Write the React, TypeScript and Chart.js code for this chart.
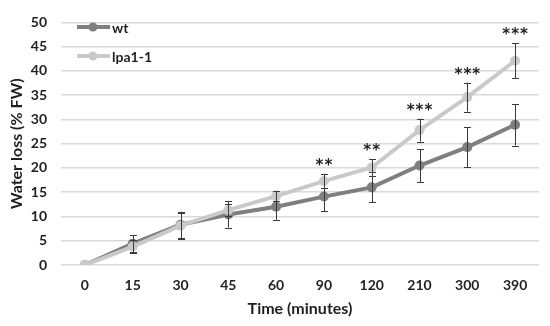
import React, { useEffect, useRef } from "react";
import { Chart, registerables } from "chart.js";

Chart.register(...registerables);

const categories = ["0", "15", "30", "45", "60", "90", "120", "210", "300", "390"];
const wtValues = [0, 4.4, 8.3, 10.4, 12.0, 14.1, 16.0, 20.5, 24.3, 28.9];
const wtErrors = [0, 1.7, 2.7, 2.7, 2.7, 3.0, 3.1, 3.4, 4.1, 4.3];
const lpaValues = [0, 3.8, 8.1, 11.3, 14.2, 17.3, 20.1, 27.8, 34.6, 42.1];
const lpaErrors = [0, 1.3, 2.7, 1.3, 1.1, 1.5, 1.7, 2.35, 3.0, 3.6];
const sigLabels = ["", "", "", "", "", "**", "**", "***", "***", "***"];
const seriesNames = ["wt", "lpa1-1"];
const yTicksMin = 0;
const yTicksMax = 50;
const yTickStep = 5;

const WT_COLOR = "#7f7f7f";
const LPA_COLOR = "#c9c9c9";
const FONT = "Lato, 'Open Sans', sans-serif";
const TEXT_COLOR = "#1f1f1f";

const errorPlugin = {
  id: "errorBarsAndLabels",
  afterDatasetDraw(chart: any, args: any) {
    const idx = args.index;
    const errs = idx === 0 ? wtErrors : lpaErrors;
    const vals = idx === 0 ? wtValues : lpaValues;
    const x = chart.scales.x;
    const y = chart.scales.y;
    const ctx = chart.ctx;
    ctx.save();
    ctx.strokeStyle = "#3a3a3a";
    ctx.lineWidth = 1;
    vals.forEach((v: number, i: number) => {
      const e = errs[i];
      if (!e) return;
      const px = Math.round(x.getPixelForValue(i)) + 0.5;
      const top = y.getPixelForValue(v + e);
      const bot = y.getPixelForValue(v - e);
      ctx.beginPath();
      ctx.moveTo(px, top);
      ctx.lineTo(px, bot);
      ctx.moveTo(px - 3.5, Math.round(top) + 0.5);
      ctx.lineTo(px + 3.5, Math.round(top) + 0.5);
      ctx.moveTo(px - 3.5, Math.round(bot) + 0.5);
      ctx.lineTo(px + 3.5, Math.round(bot) + 0.5);
      ctx.stroke();
    });
    ctx.restore();
  },
  afterDraw(chart: any) {
    const x = chart.scales.x;
    const y = chart.scales.y;
    const ctx = chart.ctx;
    ctx.save();
    // significance labels
    ctx.fillStyle = TEXT_COLOR;
    ctx.font = "bold 15px 'DejaVu Sans', sans-serif";
    ctx.textAlign = "center";
    ctx.textBaseline = "alphabetic";
    try {
      (ctx as any).letterSpacing = "1px";
    } catch (e) {}
    sigLabels.forEach((s, i) => {
      if (!s) return;
      const px = x.getPixelForValue(i);
      const top = y.getPixelForValue(lpaValues[i] + lpaErrors[i]);
      ctx.fillText(s, px + 0.5, top - 4);
    });
    try {
      (ctx as any).letterSpacing = "0px";
    } catch (e) {}
    // legend
    const items = [
      { name: seriesNames[0], color: WT_COLOR, y: 27 },
      { name: seriesNames[1], color: LPA_COLOR, y: 56 },
    ];
    items.forEach((it) => {
      ctx.strokeStyle = it.color;
      ctx.lineWidth = 4;
      ctx.beginPath();
      ctx.moveTo(77, it.y);
      ctx.lineTo(110, it.y);
      ctx.stroke();
      ctx.fillStyle = it.color;
      ctx.beginPath();
      ctx.arc(93, it.y, 4.5, 0, Math.PI * 2);
      ctx.fill();
      ctx.fillStyle = TEXT_COLOR;
      ctx.font = `bold 14px ${FONT}`;
      ctx.textAlign = "left";
      ctx.textBaseline = "middle";
      ctx.fillText(it.name, 112, it.y + 1);
    });
    ctx.restore();
  },
};

export default function App() {
  const ref = useRef<HTMLCanvasElement | null>(null);
  useEffect(() => {
    document.body.style.margin = "0";
    const canvas = ref.current;
    if (!canvas) return;
    const chart = new Chart(canvas, {
      type: "line",
      data: {
        labels: categories,
        datasets: [
          {
            label: seriesNames[0],
            data: wtValues,
            borderColor: WT_COLOR,
            backgroundColor: WT_COLOR,
            borderWidth: 4,
            pointRadius: 5,
            pointBorderWidth: 0,
            pointBackgroundColor: WT_COLOR,
            tension: 0,
            order: 1,
          },
          {
            label: seriesNames[1],
            data: lpaValues,
            borderColor: LPA_COLOR,
            backgroundColor: LPA_COLOR,
            borderWidth: 4,
            pointRadius: 5,
            pointBorderWidth: 0,
            pointBackgroundColor: LPA_COLOR,
            tension: 0,
            order: 0,
          },
        ],
      },
      options: {
        responsive: false,
        animation: false,
        events: [],
        layout: { padding: { top: 15, right: 11, left: 0, bottom: 0 } },
        plugins: {
          legend: { display: false },
          tooltip: { enabled: false },
        },
        scales: {
          x: {
            type: "category",
            offset: true,
            grid: { display: false, drawTicks: false },
            border: { display: false },
            ticks: {
              padding: 12,
              color: TEXT_COLOR,
              font: { family: FONT, size: 14, weight: "bold" },
              maxRotation: 0,
            },
            title: {
              display: true,
              text: "Time (minutes)",
              color: TEXT_COLOR,
              font: { family: FONT, size: 16, weight: "bold" },
              padding: { top: 8, bottom: 8 },
            },
            afterFit(scale: any) {
              scale.height = 61;
            },
          },
          y: {
            min: yTicksMin,
            max: yTicksMax,
            grid: { color: "#d9d9d9", lineWidth: 1.5, drawTicks: false },
            border: { display: false },
            ticks: {
              stepSize: yTickStep,
              padding: 14,
              color: TEXT_COLOR,
              font: { family: FONT, size: 14, weight: "bold" },
            },
            title: {
              display: true,
              text: "Water loss (% FW)",
              color: TEXT_COLOR,
              font: { family: FONT, size: 16, weight: "bold" },
              padding: { top: 7, bottom: 7 },
            },
            afterFit(scale: any) {
              scale.width = 61;
            },
          },
        },
      },
      plugins: [errorPlugin],
    } as any);
    return () => chart.destroy();
  }, []);
  return (
    <div style={{ width: 550, height: 326, background: "#fff" }}>
      <canvas ref={ref} width={550} height={326} style={{ display: "block" }} />
    </div>
  );
}
